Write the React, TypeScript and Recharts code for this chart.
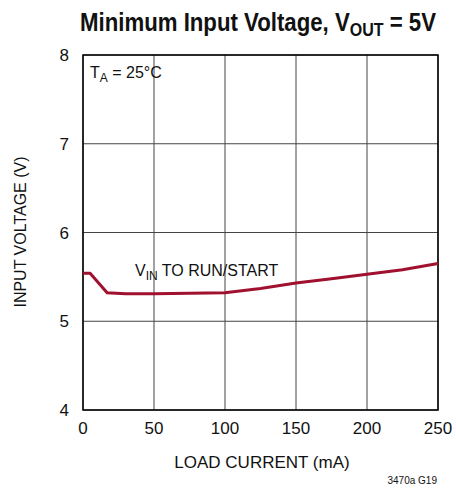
import { LineChart, Line, XAxis, YAxis, CartesianGrid, ReferenceArea } from 'recharts'

const loadCurrent = [0, 5, 17, 30, 50, 75, 100, 125, 150, 175, 200, 225, 250]
const inputVoltage = [5.54, 5.54, 5.32, 5.31, 5.31, 5.315, 5.32, 5.37, 5.43, 5.48, 5.53, 5.58, 5.65]
const xTicks = [0, 50, 100, 150, 200, 250]
const yTicks = [4, 5, 6, 7, 8]

const data = loadCurrent.map((x, i) => ({ x, v: inputVoltage[i] }))

const FONT = '"Liberation Sans Narrow", "Liberation Sans", Arial, sans-serif'

export default function App() {
  return (
    <div style={{ position: 'absolute', left: 0, top: 0, width: 456, height: 492, background: '#fff' }}>
      <LineChart width={456} height={492} data={data} margin={{ top: 55, right: 18, bottom: 52, left: 0 }}>
        <CartesianGrid stroke="#444" strokeWidth={1} ticks={xTicks} />
        <XAxis
          dataKey="x"
          type="number"
          domain={[0, 250]}
          ticks={xTicks}
          height={30}
          tickLine={false}
          axisLine={false}
          tick={{ fill: '#111', fontSize: 17, fontFamily: FONT }}
          tickMargin={6}
        />
        <YAxis
          type="number"
          domain={[4, 8]}
          ticks={yTicks}
          width={83}
          tickLine={false}
          axisLine={false}
          tick={{ fill: '#111', fontSize: 17, fontFamily: FONT }}
          tickMargin={8}
        />
        <ReferenceArea x1={0} x2={250} y1={4} y2={8} fill="none" stroke="#000" strokeWidth={1.5} />
        <Line dataKey="v" type="linear" stroke="#a0102f" strokeWidth={3} dot={false} isAnimationActive={false} />
      </LineChart>
      <svg width={456} height={492} style={{ position: 'absolute', left: 0, top: 0, pointerEvents: 'none' }}>
        <text
          x={80}
          y={31}
          textLength={356}
          lengthAdjust="spacingAndGlyphs"
          fontFamily={FONT}
          fontWeight="bold"
          fontSize={25}
          fill="#111"
        >
          Minimum Input Voltage, V<tspan fontSize={18} dy={5}>OUT</tspan>
          <tspan dy={-5}> = 5V</tspan>
        </text>
        <text x={90} y={78} fontFamily={FONT} fontSize={16} fill="#111">
          T<tspan fontSize={12} dy={4}>A</tspan>
          <tspan dy={-4}> = 25°C</tspan>
        </text>
        <text x={135} y={276} fontFamily={FONT} fontSize={16} fill="#111">
          V<tspan fontSize={12} dy={4}>IN</tspan>
          <tspan dy={-4}> TO RUN/START</tspan>
        </text>
        <text x={262} y={468} textAnchor="middle" fontFamily={FONT} fontSize={17} fill="#111">
          LOAD CURRENT (mA)
        </text>
        <text
          x={0}
          y={0}
          transform="translate(26,232) rotate(-90)"
          textAnchor="middle"
          fontFamily={FONT}
          fontSize={16}
          fill="#111"
        >
          INPUT VOLTAGE (V)
        </text>
        <text x={437} y={484} textAnchor="end" fontFamily={FONT} fontSize={10} fill="#111">
          3470a G19
        </text>
      </svg>
    </div>
  )
}
